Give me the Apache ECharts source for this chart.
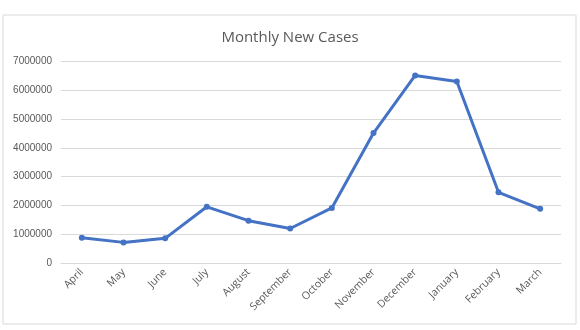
<!DOCTYPE html>
<html>
<head>
<meta charset="utf-8">
<script src="https://cdn.jsdelivr.net/npm/echarts@6/dist/echarts.min.js"></script>
<style>html,body{margin:0;padding:0;background:#fff}#c{width:580px;height:330px}</style>
</head>
<body>
<div id="c"></div>
<script>
const months = ['April','May','June','July','August','September','October','November','December','January','February','March'];
const newCases = [890000, 730000, 870000, 1960000, 1480000, 1210000, 1920000, 4510000, 6500000, 6290000, 2460000, 1890000];
const yTicks = {min: 0, max: 7000000, interval: 1000000};

const chart = echarts.init(document.getElementById('c'), null, {renderer: 'canvas'});
chart.setOption({
  animation: false,
  backgroundColor: '#ffffff',
  graphic: [{
    type: 'rect',
    shape: {x: 3, y: 15, width: 573, height: 309},
    style: {fill: 'none', stroke: '#d9d9d9', lineWidth: 1}
  }],
  title: {
    text: 'Monthly New Cases',
    left: 'center',
    top: 25,
    textStyle: {fontFamily: 'Open Sans', fontSize: 15, fontWeight: 'normal', color: '#595959'}
  },
  grid: {left: 61, right: 19, top: 61, bottom: 66.5, containLabel: false},
  xAxis: {
    type: 'category',
    data: months,
    boundaryGap: true,
    axisLine: {show: true, lineStyle: {color: '#d9d9d9', width: 1}},
    axisTick: {show: false},
    axisLabel: {rotate: 45, interval: 0, margin: 7, fontFamily: 'Open Sans', fontSize: 10.5, color: '#595959'}
  },
  yAxis: {
    type: 'value',
    min: yTicks.min,
    max: yTicks.max,
    interval: yTicks.interval,
    axisLine: {show: false},
    axisTick: {show: false},
    splitLine: {lineStyle: {color: '#d9d9d9', width: 1}},
    axisLabel: {margin: 9, fontFamily: 'Liberation Sans', fontSize: 10, color: '#595959', formatter: v => String(v)}
  },
  series: [{
    type: 'line',
    data: newCases,
    symbol: 'circle',
    symbolSize: 6,
    lineStyle: {color: '#4472C4', width: 3},
    itemStyle: {color: '#4472C4'}
  }]
});
</script>
</body>
</html>
